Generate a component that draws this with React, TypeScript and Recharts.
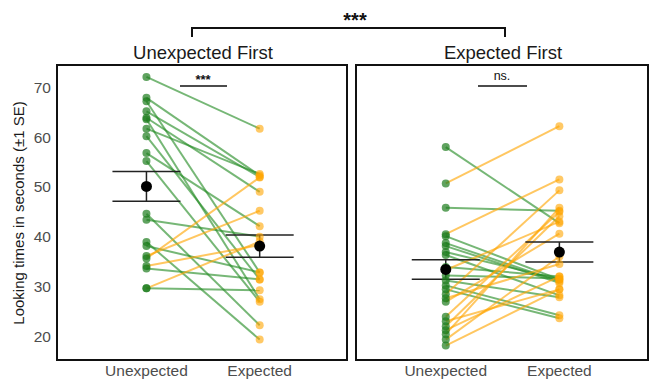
import React from 'react';
import { ComposedChart, Line, Scatter, XAxis, YAxis, ErrorBar } from 'recharts';

const conditions = ['Unexpected', 'Expected'];
const panelTitles = ['Unexpected First', 'Expected First'];
const yTicks = [20, 30, 40, 50, 60, 70];

// Unexpected First group: looking time per infant (s)
const ufUnexpected = [72.1, 67.9, 67.2, 65.2, 63.9, 63.6, 61.7, 60.2, 56.8, 55.2, 44.6, 43.4, 38.9, 38.1, 36.1, 35.6, 34.1, 33.6, 29.6, 29.6];
const ufExpected = [61.7, 52.3, 32.8, 52.0, 49.0, 27.4, 52.6, 31.4, 42.1, 26.9, 22.2, 40.0, 19.3, 32.8, 45.2, 51.9, 38.3, 31.4, 29.2, 39.0];

// Expected First group
const efUnexpected = [58.0, 50.7, 45.8, 40.5, 40.1, 38.7, 38.1, 36.9, 36.3, 33.9, 33.3, 32.2, 31.2, 30.2, 29.4, 28.4, 27.6, 26.9, 23.9, 23.0, 22.0, 21.2, 20.4, 19.3, 18.1];
const efExpected = [42.7, 62.2, 45.2, 51.5, 31.4, 31.0, 30.7, 31.4, 28.2, 32.0, 43.0, 31.6, 27.8, 24.2, 23.6, 49.3, 34.5, 40.6, 45.0, 29.4, 44.1, 32.0, 45.8, 36.0, 29.4];

// means and standard errors (Unexpected, Expected)
const ufMean = [50.1, 38.1];
const ufSE = [3.0, 2.25];
const efMean = [33.4, 36.9];
const efSE = [1.95, 2.0];

const panelSig = ['***', 'ns.'];
const groupSig = '***';

const GREEN = '#228b22';
const GREEN_PT = '#1c7c1c';
const ORANGE = '#ffa500';
const FONT = '"Liberation Sans", Arial, Helvetica, sans-serif';
const X_DOMAIN = [0.21, 2.78];
const Y_DOMAIN = [15.2, 74.5];

const dot = (fill: string, opacity: number, r: number) => (p: any) =>
  <circle cx={p.cx} cy={p.cy} r={r} fill={fill} fillOpacity={opacity} />;

interface PanelProps {
  unexp: number[];
  exp: number[];
  mean: number[];
  se: number[];
  showY: boolean;
  width: number;
}

const Panel = ({ unexp, exp, mean, se, showY, width }: PanelProps) => {
  const pairs = unexp.map((u, i) => [{ x: 1, y: u }, { x: 2, y: exp[i] }]);
  const uPts = unexp.map((y) => ({ x: 1, y }));
  const ePts = exp.map((y) => ({ x: 2, y }));
  const means = mean.map((y, i) => ({ x: i + 1, y, se: se[i] }));
  return (
    <ComposedChart width={width} height={381} margin={{ top: 65, right: 0, bottom: 0, left: 0 }}>
      <XAxis
        type="number"
        dataKey="x"
        domain={X_DOMAIN}
        ticks={[1, 2]}
        interval={0}
        allowDataOverflow
        tickFormatter={(v) => conditions[v - 1]}
        axisLine={false}
        tickLine={false}
        tickSize={0}
        tickMargin={5}
        height={21}
        tick={{ fill: '#4d4d4d', fontSize: 15.5, fontFamily: FONT }}
      />
      <YAxis
        type="number"
        dataKey="y"
        domain={Y_DOMAIN}
        ticks={yTicks}
        allowDataOverflow
        hide={!showY}
        width={57}
        axisLine={false}
        tickLine={false}
        tickSize={0}
        tickMargin={6}
        tick={{ fill: '#4d4d4d', fontSize: 15.5, fontFamily: FONT }}
      />
      {pairs.map((d, i) => (
        <Line
          key={i}
          data={d}
          dataKey="y"
          stroke={d[1].y < d[0].y ? GREEN : ORANGE}
          strokeOpacity={0.62}
          strokeWidth={2}
          dot={false}
          activeDot={false}
          isAnimationActive={false}
        />
      ))}
      <Scatter data={uPts} shape={dot(GREEN_PT, 0.7, 4)} isAnimationActive={false} />
      <Scatter data={ePts} shape={dot(ORANGE, 0.6, 4)} isAnimationActive={false} />
      <Scatter data={means} shape={dot('#000', 1, 5.5)} isAnimationActive={false}>
        <ErrorBar dataKey="se" direction="y" width={34} stroke="#222" strokeWidth={1.5} />
      </Scatter>
    </ComposedChart>
  );
};

const abs = (left: number, top: number, extra: React.CSSProperties = {}): React.CSSProperties => ({
  position: 'absolute',
  left,
  top,
  ...extra,
});

export default function App() {
  return (
    <div style={abs(0, 0, { width: 652, height: 381, background: '#fff', fontFamily: FONT, overflow: 'hidden' })}>
      <div style={abs(0, 0)}>
        <Panel unexp={ufUnexpected} exp={ufExpected} mean={ufMean} se={ufSE} showY width={348} />
      </div>
      <div style={abs(356, 0)}>
        <Panel unexp={efUnexpected} exp={efExpected} mean={efMean} se={efSE} showY={false} width={292} />
      </div>

      {/* panel frames */}
      <div style={abs(56, 64, { width: 292, height: 297, border: '2px solid #111', boxSizing: 'border-box' })} />
      <div style={abs(355, 64, { width: 294, height: 297, border: '2px solid #111', boxSizing: 'border-box' })} />

      {/* y axis title */}
      <div
        style={abs(18, 213, {
          transform: 'translate(-50%, -50%) rotate(-90deg)',
          whiteSpace: 'nowrap',
          fontSize: 15,
          color: '#1a1a1a',
        })}
      >
        Looking times in seconds (±1 SE)
      </div>

      <svg width={652} height={381} style={abs(0, 0)}>
        <g fontFamily={FONT} textAnchor="middle">
          <text x={203} y={59} fontSize={18.5} fill="#1a1a1a">{panelTitles[0]}</text>
          <text x={503} y={59} fontSize={18.5} fill="#1a1a1a">{panelTitles[1]}</text>
          <path d="M192 37 V28 H505 V37" stroke="#111" strokeWidth={2} fill="none" />
          <text x={355} y={27} fontSize={20} fontWeight="bold" fill="#111">{groupSig}</text>
          <line x1={180} x2={227} y1={86} y2={86} stroke="#111" strokeWidth={1.5} />
          <text x={203} y={84} fontSize={13} fontWeight="bold" fill="#111">{panelSig[0]}</text>
          <line x1={478} x2={527} y1={86} y2={86} stroke="#111" strokeWidth={1.5} />
          <text x={502} y={80} fontSize={12.5} fill="#111">{panelSig[1]}</text>
        </g>
      </svg>
    </div>
  );
}
